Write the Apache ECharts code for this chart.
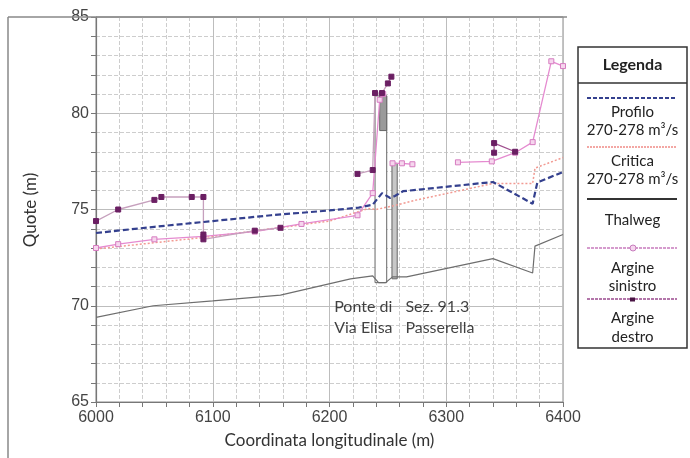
<!DOCTYPE html>
<html><head><meta charset="utf-8">
<script src="https://cdn.jsdelivr.net/npm/echarts@6/dist/echarts.min.js"></script>
<style>html,body{margin:0;padding:0;background:#fff}#wrap{position:relative;width:690px;height:458px}#axes,#c{position:absolute;left:0;top:0;width:690px;height:458px}</style>
</head><body><div id="wrap"><div id="axes"></div><div id="c"></div></div>
<script>
// ---- data ----
const xTicks = [6000, 6100, 6200, 6300, 6400];
const yTicks = [65, 70, 75, 80, 85];

const profiloX = [6000, 6050, 6100, 6150, 6200, 6225, 6237, 6245, 6252, 6256, 6263, 6340, 6374, 6378, 6400];
const profiloY = [73.78, 74.1, 74.4, 74.7, 74.95, 75.1, 75.25, 75.85, 75.6, 75.7, 75.95, 76.43, 75.3, 76.4, 76.95];

const criticaX = [6000, 6100, 6200, 6233, 6240, 6255, 6275, 6340, 6374, 6376, 6400];
const criticaY = [72.95, 73.6, 74.4, 75.05, 75.0, 75.2, 75.5, 76.35, 76.35, 77.15, 77.7];

const thalwegX = [6000, 6049, 6100, 6158, 6218, 6237, 6242, 6248, 6254, 6266, 6340, 6374, 6376, 6400];
const thalwegY = [69.4, 70.0, 70.25, 70.55, 71.4, 71.55, 71.2, 71.2, 71.5, 71.5, 72.45, 71.7, 73.1, 73.7];

// Argine sinistro (segments)
const sinistro1X = [6000, 6019, 6050, 6092, 6136, 6176, 6224, 6237, 6243, 6246];
const sinistro1Y = [73.0, 73.2, 73.45, 73.6, 73.85, 74.25, 74.7, 75.85, 80.7, 81.0];
const sinistro2X = [6254, 6262, 6271];
const sinistro2Y = [77.4, 77.4, 77.35];
const sinistro3X = [6310, 6339, 6359, 6374, 6390, 6400];
const sinistro3Y = [77.45, 77.5, 77.95, 78.5, 82.7, 82.45];

// Argine destro (segments)
const destro1X = [6000, 6019, 6050, 6056, 6082, 6092, 6092, 6092, 6136, 6158];
const destro1Y = [74.4, 75.0, 75.5, 75.65, 75.65, 75.65, 73.7, 73.45, 73.9, 74.05];
const destro2X = [6224, 6237, 6239, 6245, 6250, 6253];
const destro2Y = [76.85, 77.05, 81.05, 81.05, 81.55, 81.9];
const destro3X = [6341, 6341, 6359];
const destro3Y = [77.95, 78.45, 78.0];

// structures (bridge & footbridge)
const structX1 = [6239, 6243, 6253.5];
const structX2 = [6249, 6249, 6258];
const structY1 = [71.2, 79.1, 71.4];
const structY2 = [80.9, 80.9, 77.4];

// annotations
const annotX = [6204, 6265];
const annotY = [69.4, 69.4];
const annotText = ['Ponte di\nVia Elisa', 'Sez. 91.3\nPasserella'];

// ---- build ----
const zip = (xs, ys) => xs.map((x, i) => [x, ys[i]]);
const structData = structX1.map((x, i) => [x, structX2[i], structY1[i], structY2[i]]);
const structFill = ['#ffffff', '#9a9a9a', '#c8c8c8'];

const sinColor = '#e58bd0', sinMarker = '#d67cc0';
const desLine = '#c6a0bd', desMarker = '#6b1f63';
const fontAx = 'Liberation Sans, Arial, sans-serif';
const fontC = 'Lato, Open Sans, sans-serif';

const xMin = xTicks[0], xMax = xTicks[xTicks.length - 1];
const yMin = yTicks[0], yMax = yTicks[yTicks.length - 1];
const gridBox = { left: 96, right: 127, top: 17, bottom: 56 };

// ---------- layer 1: axes, ticks, grid ----------
const xLab = v => (xTicks.indexOf(Math.round(v)) >= 0 ? String(Math.round(v)) : '');
const yLab = v => (yTicks.indexOf(Math.round(v)) >= 0 && Math.abs(v - Math.round(v)) < 1e-6 ? String(Math.round(v)) : '');

const axesChart = echarts.init(document.getElementById('axes'));
axesChart.setOption({
  animation: false,
  backgroundColor: '#ffffff',
  grid: Object.assign({ show: true, borderColor: '#888', borderWidth: 1, backgroundColor: 'transparent' }, gridBox),
  xAxis: [
    {
      type: 'value', min: xMin, max: xMax, interval: 20, position: 'bottom',
      name: 'Coordinata longitudinale (m)', nameLocation: 'middle', nameGap: 30,
      nameTextStyle: { fontFamily: fontC, fontSize: 17, color: '#333' },
      axisLine: { show: true, lineStyle: { color: '#777', width: 1.2 } },
      axisTick: { show: true, length: 5, lineStyle: { color: '#777' } },
      axisLabel: { fontFamily: fontAx, fontSize: 16, color: '#444', margin: 8, formatter: xLab },
      splitLine: { show: true, lineStyle: { color: '#cdcdcd', width: 1, type: 'dashed' } }
    },
    {
      type: 'value', min: xMin, max: xMax, interval: 100, position: 'bottom',
      axisLine: { show: false }, axisLabel: { show: false }, axisTick: { show: false },
      splitLine: { show: true, lineStyle: { color: '#bdbdbd', width: 1 } }
    }
  ],
  yAxis: [
    {
      type: 'value', min: yMin, max: yMax, interval: 1,
      axisLine: { show: true, lineStyle: { color: '#777', width: 1.2 } },
      axisTick: { show: true, length: 5, lineStyle: { color: '#777' } },
      axisLabel: { fontFamily: fontAx, fontSize: 16, color: '#444', margin: 7, formatter: yLab },
      splitLine: { show: true, lineStyle: { color: '#cdcdcd', width: 1, type: 'dashed' } }
    },
    {
      type: 'value', min: yMin, max: yMax, interval: 5,
      axisLine: { show: false }, axisLabel: { show: false }, axisTick: { show: false },
      splitLine: { show: true, lineStyle: { color: '#bdbdbd', width: 1 } }
    }
  ],
  series: []
});

// ---------- layer 2: data marks, annotations, legend ----------
function lineSeries(data, color, width, type, symbol, symColor, symSize, filled) {
  const s = {
    type: 'line', data: data, animation: false, silent: true,
    lineStyle: { color: color, width: width, type: type || 'solid' },
    symbol: symbol || 'none', symbolSize: symSize || 4,
    showSymbol: !!symbol,
    z: 3
  };
  if (symbol) s.itemStyle = { color: filled ? symColor : '#f6d6ee', borderColor: symColor, borderWidth: 1 };
  return s;
}

const series = [
  {
    type: 'custom', animation: false, silent: true, z: 2,
    data: structData,
    encode: { x: [0, 1], y: [2, 3] },
    renderItem: function (params, api) {
      const p1 = api.coord([api.value(0), api.value(3)]);
      const p2 = api.coord([api.value(1), api.value(2)]);
      return {
        type: 'rect',
        shape: { x: p1[0], y: p1[1], width: p2[0] - p1[0], height: p2[1] - p1[1] },
        style: { fill: structFill[params.dataIndex], stroke: '#666', lineWidth: 1 }
      };
    }
  },
  lineSeries(zip(thalwegX, thalwegY), '#6e6e6e', 1.2),
  lineSeries(zip(criticaX, criticaY), '#f29a92', 1.5, [2, 2]),
  lineSeries(zip(sinistro1X, sinistro1Y), sinColor, 1.3, 'solid', 'rect', sinMarker, 5, false),
  lineSeries(zip(sinistro2X, sinistro2Y), sinColor, 1.3, 'solid', 'rect', sinMarker, 5, false),
  lineSeries(zip(sinistro3X, sinistro3Y), sinColor, 1.3, 'solid', 'rect', sinMarker, 5, false),
  lineSeries(zip(destro1X, destro1Y), desLine, 1.3, 'solid', 'rect', desMarker, 5, true),
  lineSeries(zip(destro2X, destro2Y), desLine, 1.3, 'solid', 'rect', desMarker, 5, true),
  lineSeries(zip(destro3X, destro3Y), '#a0508f', 1.3, 'solid', 'rect', desMarker, 5, true),
  lineSeries(zip(profiloX, profiloY), '#34408e', 2.2, [6, 3]),
  {
    type: 'scatter', animation: false, silent: true, symbolSize: 0,
    data: annotX.map((x, i) => ({ value: [x, annotY[i]], name: annotText[i] })),
    label: {
      show: true, position: [0, 0], align: 'left', verticalAlign: 'middle',
      formatter: p => p.name, fontFamily: fontC, fontSize: 16, lineHeight: 21, color: '#111'
    },
    z: 5
  }
];

const LX = 578, LW = 109, LCX = LX + LW / 2;
const legTxt = (t, y, bold) => ({
  type: 'text', x: LCX, y: y, z: 10,
  style: { text: t, fontFamily: fontC, fontSize: bold ? 16 : 15, fontWeight: bold ? 'bold' : 'normal', fill: '#222', align: 'center', verticalAlign: 'middle' }
});
const legLine = (y, color, w, dash) => {
  const st = { stroke: color, lineWidth: w };
  if (dash) st.lineDash = dash;
  return { type: 'line', z: 10, shape: { x1: 587, y1: y, x2: 677, y2: y }, style: st };
};

const graphic = [
  { type: 'line', z: 10, shape: { x1: 8, y1: 17, x2: 8, y2: 458 }, style: { stroke: '#888', lineWidth: 1.5 } },
  { type: 'line', z: 10, shape: { x1: 8, y1: 17, x2: 567, y2: 17 }, style: { stroke: '#888', lineWidth: 1.5 } },
  { type: 'text', x: 31, y: 210, rotation: Math.PI / 2, z: 10,
    style: { text: 'Quote (m)', fontFamily: fontC, fontSize: 17, fill: '#333', align: 'center', verticalAlign: 'middle' } },
  { type: 'rect', z: 9, shape: { x: LX, y: 47, width: LW, height: 301 }, style: { fill: '#fff', stroke: '#333', lineWidth: 1.5 } },
  { type: 'line', z: 10, shape: { x1: LX, y1: 83, x2: LX + LW, y2: 83 }, style: { stroke: '#333', lineWidth: 1.5 } },
  legTxt('Legenda', 65, true),
  legLine(98, '#34408e', 2, [4, 2]),
  legTxt('Profilo', 112), legTxt('270-278 m³/s', 130),
  legLine(147, '#ef8a86', 1.5, [2, 1]),
  legTxt('Critica', 161), legTxt('270-278 m³/s', 179),
  legLine(199, '#333', 2),
  legTxt('Thalweg', 220),
  legLine(248, '#c77bbd', 1.5, [3, 1]),
  { type: 'circle', z: 11, shape: { cx: 633, cy: 248, r: 3 }, style: { fill: '#f6d6ee', stroke: '#c77bbd', lineWidth: 1 } },
  legTxt('Argine', 268), legTxt('sinistro', 286),
  legLine(299, '#9b4a8f', 1.5, [3, 1]),
  { type: 'rect', z: 11, shape: { x: 630, y: 297.5, width: 5, height: 4 }, style: { fill: '#4a1545' } },
  legTxt('Argine', 318), legTxt('destro', 337)
];

const chart = echarts.init(document.getElementById('c'));
chart.setOption({
  animation: false,
  backgroundColor: 'transparent',
  grid: Object.assign({ show: false }, gridBox),
  xAxis: { type: 'value', min: xMin, max: xMax, show: false },
  yAxis: { type: 'value', min: yMin, max: yMax, show: false },
  graphic: graphic,
  series: series
});
</script>
</body></html>
